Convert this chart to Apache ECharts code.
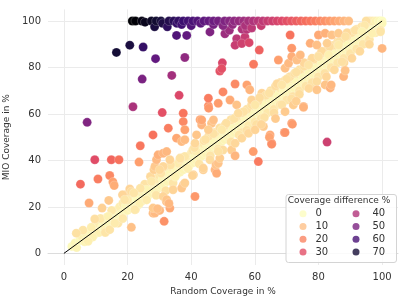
<!DOCTYPE html>
<html><head><meta charset="utf-8">
<script src="https://cdn.jsdelivr.net/npm/echarts@6/dist/echarts.min.js"></script>
<style>html,body{margin:0;padding:0;background:#fff}#c{width:407px;height:305px}</style>
</head><body><div id="c"></div>
<script>
// ---- data (Random coverage %, MIO coverage %) ----
const xTitle = 'Random Coverage in %';
const yTitle = 'MIO Coverage in %';
const legendTitle = 'Coverage difference %';
const legendValues = [0, 10, 20, 30, 40, 50, 60, 70];
const refLine = [[0, 0], [100, 100]];

const diagonalBand = [
[2.5,3],[3.5,4.5],[4,2.5],[5,5.5],[5.5,7.5],[6.5,5],[7,8.5],[8,6.5],[8.5,9.5],[9.5,8],[10,11],[10.5,13],[11,9],[12,11.5],[12.5,14],[13,11],[13.5,15.5],[14,13],[15,14],[15.5,17],[16,14.5],[16.5,18.5],[17,16],[17.5,20],[18,17],[18.5,21.5],[19,18],[19.5,20.5],[20,18.5],[20.5,22],[21,19.5],[21.5,24],[22,21],[22.5,19],[23,24.5],[23.5,21],[24,26],[24.5,22.5],[25,26.5],[25.5,24],[26,28],[26.5,25],[27,29],[27.5,26],[28,30.5],[28.5,27],[29,32],[29.5,28],[30,33.5],[30.5,29],[31,32],[31.5,30],[32,35],[32.5,31],[33,34],[33.5,32.5],[34,37],[34.5,33],[35,36],[35.5,34],[36,38.5],[36.5,35],[37,40],[37.5,36],[38,39],[38.5,37],[39,41.5],[39.5,38],[40,43],[40.5,39],[41,42],[41.5,40],[42,45],[42.5,41],[43,44],[43.5,42],[44,47],[44.5,43],[45,46],[45.5,44.5],[46,49],[46.5,45],[47,48],[47.5,46],[48,51],[48.5,47],[49,50],[49.5,48],[50,53],[50.5,49],[51,52],[51.5,50],[52,55],[52.5,51],[53,54],[53.5,52],[54,57],[54.5,53],[55,56],[55.5,54],[56,59],[56.5,55],[57,58],[57.5,56],[58,61],[58.5,57],[59,60],[59.5,58],[60,63],[60.5,59],[61,62],[61.5,60],[62,65],[62.5,61],[63,64],[63.5,62],[64,67],[64.5,63],[65,66],[65.5,64],[66,69],[66.5,65],[67,68],[67.5,66],[68,71],[68.5,67],[69,70],[69.5,68],[70,73],[70.5,69],[71,72],[71.5,70],[72,75],[72.5,71],[73,74],[73.5,72],[74,77],[74.5,73],[75,76],[75.5,74],[76,79],[76.5,75],[77,78],[77.5,76],[78,81],[78.5,77],[79,80],[79.5,78],[80,83],[80.5,79],[81,82],[81.5,80],[82,85],[82.5,81],[83,84],[83.5,82],[84,87],[84.5,83],[85,86],[85.5,84],[86,89],[86.5,85],[87,88],[87.5,86],[88,91],[88.5,87],[89,90],[89.5,88],[90,93],[90.5,89],[91,92],[91.5,90],[92,95],[92.5,91],[93,94],[93.5,92],[94,97],[94.5,93],[95,96],[95.5,94],[96,98.5],[96.5,95.5],[97,97],[97.5,99],[98,97],[98.5,99.5],[99,98.5],[99.5,100],
[19.5,25.2],[20.7,27.7],[21.2,26.6],[22.8,23.1],[23.8,21.6],[22.3,18.8],[25.4,29.8],[25.9,27.4],[27.2,33.1],[28.3,36],[34.3,30.3],[35.9,38.8],[38,41.7],[36.5,40.5],[40.5,44.5],[41.5,44],[44,48.5],[45.5,50.5],[47.5,52],[49,54],[50.5,55],[52.5,57.5],[54,58.5],[56,60.5],[57.5,62],[59,64],[61,65.5],[62.2,68.9],[63.5,68],[65,70],[66.5,72],[68,73.5],[69.5,74.5],[71,76],[72.5,77.5],[74,79],[75.5,80.5],[77,82],[78.5,83.5],[80,85],[81.5,86.5],[83,88],[84.5,89.5],[86,91],[87.5,92.5],[89,93.5],[90.5,95],[92,96.5],[93.5,97.5],[95,99],[96,100],[97,100],[98,100],[99,100],[100,100],[100,99],[95,100],
[56,52],[58,55],[60,56.5],[62,58],[64,60.5],[66,62],[68,64],[70,66],[72,67.5],[74,70],[76,72],[78,73.5],[80,76],[82,77.5],[84,80],[86,82],[88,84],[90,86],[92,88],[94,90],[96,92],[98,95],[99.5,96],
[33.5,38],[35,33],[36.5,41],[39,36.5],[41,45.5],[42.5,38.5],[44.5,49],[46,42],[47,51.5],[48.5,45],[50,44.5],[51,56],[52.5,48],[53.5,58],[55,51],[56.5,61],[57.5,53],[59,66],[60.5,55.5],[61.5,67],[63,58.5],[64.5,69],[66,60.5],[67,73],[68.5,64],[70,75],[71.5,66.5],[73,78],[74,68.5],[75.5,82],[77,71],[78,84],[79.5,74],[81,87],[82.5,76],[83.5,89],[85,79],[86.5,91],[88,82],[89,95],[90.5,84],[91.5,96],[93,87],[94.5,98],[96,90],[24,28],[26,23],[27.5,31],[29,25],[30.5,34.5],[32,27],[11.5,15],[13,9],[15,18.5],[17,13],[18.5,15],[20,23],[22,26],[6,10],[9,7]
];

const aboveBand = [
[7.6,5.2],[3.9,8.7],[8.6,11.2],[9.7,14.8],[13.9,15.9],[14.4,10.2],[16,13],[18.4,25.2],[19.1,23.1],[28.6,37.4],[29.1,40.3],[29.6,42.4],[31.2,43.1],[32.3,43.8],[31.2,37.4],[30.1,36],[33.3,40.3],[35.4,49.6],[37,48.1],[38,48.9],[41.2,47.4],[41.7,51],[43.3,55.3],[42.8,57.5],[46.4,56],[45.4,53.2],[49.6,53.2],[47,57.4],[43.3,57.4],[45.4,63.5],[52.2,66],[54.3,63.9],[54.8,60.3],[57.5,72.5],[58.4,70.4],[60.1,63.9],[68.5,72.5],[69.5,79.7],[70.6,81.8],[71.6,84.7],[73.2,83.2],[74.3,85.4],[76.9,81.1],[77.4,90.4],[79.5,89.7],[80,84.7],[82.7,90.4],[83.2,85.4],[86.3,89.7],[87.4,82.5],[80,94],[82.1,94.7],[84.2,94],[86.3,94.7],[88.5,93.3],[93.7,95.4],[96.9,94.7],[99.5,95.4],[71.6,88.3],[67.4,83.2]
];

const belowBand = [
[28,17.3],[28.6,17.4],[30.1,18.5],[28,19.5],[29.4,19.2],[31.2,24.5],[32.2,22.3],[32.3,23.1],[33.3,19.5],[33,21.5],[34.3,27.4],[37.5,29.5],[37,28.1],[38,30.3],[40.7,33.8],[40.4,33.5],[43.8,36],[43.8,36.7],[45.9,40.3],[47.5,36],[48,34.5],[47.8,38.1],[48.5,38.8],[49,41],[48.5,43.9],[52.7,44.5],[53.8,47.4],[53.8,42],[55.9,49.6],[58,51.7],[60.1,53.2],[62.7,54.6],[64.8,51],[65.3,47.4],[69.3,52],[71.6,56],[69.5,61],[72.1,63.9],[75.3,63.2],[79.5,70.4],[82.1,72.5],[83.7,71.2],[84,72.5],[87.9,76.1],[88.4,78.7],[62,55.5],[66.5,58]
];

const farOutliers = [
[16.5,86.5],[20.7,89.6],[24.9,88.8],[28.8,83.8],[38,84.3],[24.6,75],[33.9,76.6],[36.2,68],[21.7,63.1],[7.3,56.4],[30.9,60.6],[37.5,60.3],[37.5,56.7],[38,53.2],[32.8,53.9],[28,51],[24,46.3],[9.7,40.3],[14.9,40.3],[17.3,40.3],[23.6,39.3],[5.2,29.8],[10.7,32],[14.4,33.5],[15.4,30.7],[15.8,29.2],[7.9,21.7],[14.1,22.8],[12,19.5],[49.8,82],[49,78.5],[49.6,79.5],[61.4,87.5],[59.6,81.4],[71.1,94],[45.4,66.8],[45.5,62.5],[50,69.5],[53.8,72.9],[48.5,64.6],[82.7,47.9],[61.1,39.5],[59.5,43.8],[64.6,50],[65.3,47],[69.5,52],[71.8,55.6],[75.3,62.9],[73,65.5],[100,88.2],[41.2,24.5],[31.5,13.8],[21.2,11.2]
];

const secondRow = [
[35.4,93.8],[38.6,93.8],[45.9,95.3],[50.6,94.5],[52,96],[54.3,92.4],[56.9,93.1],[56,96.5],[57.5,96.4],[58.5,97.5],[53.8,89.6],[55.9,90.3],[58.2,90.7]
];

const topRow = [
[21.5,100],[22.5,100],[24.5,100],[25.5,99.5],[27.5,100],[28.5,97.5],[29,100],[30.5,100],[31,99],[32.5,97.5],[33,100],[34.5,100],[35.5,99],[36,100],[37,98.5],[37.5,100],[39,100],[40,98],[40.5,100],[42,100],[43,99],[44,100],[45.5,100],[47,98.5],[47,100],[48.5,100],[50,98],[50.5,100],[52,100],[53,98.5],[53.5,100],[55,100],[56.5,100],[57,98],[58,100],[59,97],[59.5,100],[61,100],[62,98],[62.5,100],[64,100],[65.5,100],[67,100],[68.5,100],[70,100],[71.5,100],[73,100],[74.5,100],[76,100],[77.5,100],[79,100],[80.5,100],[82,100],[83.5,100],[85,100],[86.5,100],[88,100],[89.5,100]
];

// ---- colour map (magma, reversed: 0 = light) ----
const magmaStops = ['#fcfdbf','#fecf92','#fe9f6d','#f7705c','#de4968','#b73779','#8c2981','#641a80','#3b0f70','#140e36','#000004'];
const hueMax = 78;
function hex2rgb(h){return [parseInt(h.substr(1,2),16),parseInt(h.substr(3,2),16),parseInt(h.substr(5,2),16)];}
function colorFor(v){
  let t = Math.max(0, Math.min(1, v / hueMax)) * (magmaStops.length - 1);
  const i = Math.min(magmaStops.length - 2, Math.floor(t));
  const f = t - i;
  const a = hex2rgb(magmaStops[i]), b = hex2rgb(magmaStops[i+1]);
  return 'rgb(' + a.map((c,k)=>Math.round(c + (b[k]-c)*f)).join(',') + ')';
}

const allPoints = [].concat(diagonalBand, belowBand, aboveBand, farOutliers, secondRow, topRow)
  .map(p => [p[0], p[1], Math.abs(p[1] - p[0])]);

const FONT = 'DejaVu Sans';
const chart = echarts.init(document.getElementById('c'), null, {renderer: 'canvas'});

const legendSeries = legendValues.map(v => ({
  name: String(v), type: 'scatter', data: [], symbol: 'circle',
  itemStyle: {color: colorFor(v)}
}));

const axisCommon = {
  type: 'value', min: -5, max: 105, minInterval: 20, maxInterval: 20,
  axisTick: {show: false},
  splitLine: {show: true, showMinLine: false, showMaxLine: false, lineStyle: {color: '#ebebeb', width: 1}},
};

chart.setOption({
  animation: false,
  backgroundColor: '#ffffff',
  grid: {left: 48, right: 9, top: 9.4, bottom: 40, containLabel: false, outerBoundsMode: 'none'},
  xAxis: Object.assign({}, axisCommon, {
    name: xTitle, nameLocation: 'middle', nameGap: 20,
    nameTextStyle: {fontFamily: FONT, fontSize: 9, color: '#333'},
    axisLine: {show: true, lineStyle: {color: '#dcdcdc', width: 1}},
    axisLabel: {margin: 7, fontFamily: FONT, fontSize: 10, color: '#333', showMinLabel: false, showMaxLabel: false,
      formatter: v => (v % 20 === 0 ? String(v) : '')}
  }),
  yAxis: Object.assign({}, axisCommon, {
    name: yTitle, nameLocation: 'middle', nameGap: 24,
    nameTextStyle: {fontFamily: FONT, fontSize: 9, color: '#333'},
    axisLine: {show: false},
    axisLabel: {margin: 7, fontFamily: FONT, fontSize: 10, color: '#333', showMinLabel: false, showMaxLabel: false,
      formatter: v => (v % 20 === 0 ? String(v) : '')}
  }),
  legend: [
    {data: legendValues.slice(0,4).map(String), orient: 'vertical', left: 299.5, top: 207.5, itemWidth: 7, itemHeight: 7, itemGap: 0,
     icon: 'circle', selectedMode: false, z: 20, padding: 0,
     textStyle: {fontFamily: FONT, fontSize: 10, color: '#333', lineHeight: 12.7, padding: [0,0,0,4]}},
    {data: legendValues.slice(4).map(String), orient: 'vertical', left: 352.5, top: 207.5, itemWidth: 7, itemHeight: 7, itemGap: 0,
     icon: 'circle', selectedMode: false, z: 20, padding: 0,
     textStyle: {fontFamily: FONT, fontSize: 10, color: '#333', lineHeight: 12.7, padding: [0,0,0,8]}}
  ],
  graphic: [
    {type: 'rect', z: 10, shape: {x: 286, y: 194.5, width: 110.5, height: 68, r: 2.5},
     style: {fill: 'rgba(255,255,255,0.85)', stroke: '#d4d4d4', lineWidth: 1}},
    {type: 'text', z: 11, x: 339, y: 201, style: {text: legendTitle, fontFamily: FONT, fontSize: 9, fill: '#333', align: 'center', verticalAlign: 'middle'}}
  ],
  series: [
    {type: 'scatter', data: allPoints, symbolSize: 9, z: 2,
     itemStyle: {color: p => colorFor(p.value[2]), opacity: 1, borderColor: 'rgba(255,255,255,0.5)', borderWidth: 0.4}},
    {type: 'line', data: refLine, symbol: 'none', z: 3, lineStyle: {color: '#000', width: 1}}
  ].concat(legendSeries)
});
</script></body></html>
